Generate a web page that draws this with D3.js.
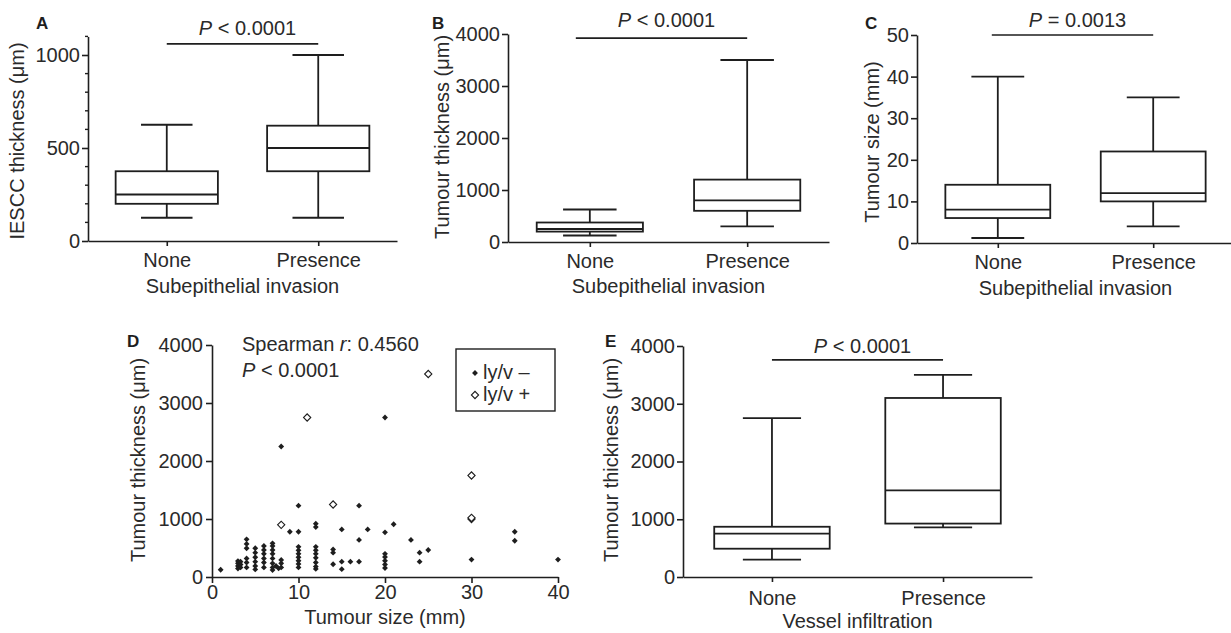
<!DOCTYPE html>
<html>
<head>
<meta charset="utf-8">
<script src="https://cdn.jsdelivr.net/npm/d3@7"></script>
<style>
body { margin: 0; background: #fff; }
svg { display: block; font-family: "Liberation Sans", Arial, sans-serif; }
</style>
</head>
<body>
<svg id="fig" width="1231" height="633"></svg>
<script>
// box stats are [min, q1, median, q3, max] per category
var cats = ["None", "Presence"];
var iesccStats = [[125, 200, 250, 375, 625], [125, 375, 500, 620, 1000]];
var thickStats = [[125, 200, 250, 375, 625], [300, 600, 800, 1200, 3500]];
var sizeStats = [[1.2, 6, 8, 14, 40], [4, 10, 12, 22, 35]];
var vesselStats = [[300, 490, 750, 870, 2750], [860, 925, 1500, 3100, 3500]];

// scatter D, ly/v - (filled) and ly/v + (open)
var negSize = [1, 3, 3, 3, 3, 3.3, 3.3, 3.3, 4, 4, 4, 4, 4, 4, 5, 5, 5, 5, 5, 5,
  6, 6, 6, 6, 6, 6, 7, 7, 7, 7, 7, 7, 7, 7, 7.4, 7.7, 8, 8, 8, 8, 9,
  10, 10, 10, 10, 10, 10, 10, 10, 10, 12, 12, 12, 12, 12, 12, 12, 12, 12,
  14, 14, 14, 15, 15, 15, 16, 17, 17, 17, 18, 20, 20, 20, 20, 20, 20, 20,
  21, 23, 24, 24, 25, 30, 35, 35, 40];
var negThick = [125, 145, 190, 235, 275, 165, 215, 265, 165, 250, 320, 495, 570, 650, 130, 190, 265, 340, 420, 495,
  165, 250, 320, 400, 465, 535, 120, 165, 235, 320, 400, 465, 535, 580, 190, 150, 165, 235, 295, 2250, 780,
  165, 225, 280, 340, 400, 460, 520, 780, 1230, 140, 180, 250, 330, 400, 460, 520, 860, 920,
  220, 420, 475, 135, 265, 820, 265, 265, 640, 1230, 820, 155, 215, 280, 345, 400, 770, 2750,
  910, 640, 265, 420, 465, 300, 625, 780, 300];
var posSize = [8, 11, 14, 25, 30, 30, 30];
var posThick = [900, 2750, 1250, 3500, 1750, 1000, 1020];

var ink = "#1e1e1e", txt = "#2a2a2a";
var svg = d3.select("#fig");

function pText(g, x, y, op, val) {
  var t = g.append("text").attr("x", x).attr("y", y).attr("text-anchor", "middle")
    .attr("font-size", 20).attr("fill", txt);
  t.append("tspan").attr("font-style", "italic").text("P");
  t.append("tspan").text(" " + op + " " + val);
}

function styleAxis(a) {
  a.selectAll("path, line").attr("stroke", ink).attr("stroke-width", 1.6);
  a.selectAll("text").attr("font-size", 20).attr("fill", txt).attr("font-family", null);
}

function boxPanel(c) {
  var g = svg.append("g");
  var x = d3.scalePoint().domain(cats).range([c.left, c.right]).padding(0.52);
  var y = d3.scaleLinear().domain([0, c.ymax]).range([c.bottom, c.top]);
  var step = x.step(), bw = step * 0.675, cw = step * 0.34;

  var ya = g.append("g").attr("transform", "translate(" + c.left + ",0)")
    .call(d3.axisLeft(y).tickValues(c.ticks).tickSize(6).tickSizeOuter(0).tickPadding(2).tickFormat(d3.format("d")));
  styleAxis(ya);
  if (c.minor) {
    g.selectAll(".minor").data(c.minor).enter().append("line")
      .attr("x1", c.left - 3).attr("x2", c.left)
      .attr("y1", function(d) { return y(d); }).attr("y2", function(d) { return y(d); })
      .attr("stroke", ink).attr("stroke-width", 1.4);
  }
  var xa = g.append("g").attr("transform", "translate(0," + c.bottom + ")")
    .call(d3.axisBottom(x).tickSize(5).tickSizeOuter(0).tickPadding(c.catPad));
  styleAxis(xa);

  var b = g.selectAll(".box").data(c.stats).enter().append("g")
    .attr("transform", function(d, i) { return "translate(" + x(cats[i]) + ",0)"; })
    .attr("stroke", ink).attr("stroke-width", 1.8).attr("fill", "none");
  b.append("line").attr("y1", function(d) { return y(d[0]); }).attr("y2", function(d) { return y(d[1]); });
  b.append("line").attr("y1", function(d) { return y(d[3]); }).attr("y2", function(d) { return y(d[4]); });
  b.append("line").attr("x1", -cw / 2).attr("x2", cw / 2)
    .attr("y1", function(d) { return y(d[0]); }).attr("y2", function(d) { return y(d[0]); });
  b.append("line").attr("x1", -cw / 2).attr("x2", cw / 2)
    .attr("y1", function(d) { return y(d[4]); }).attr("y2", function(d) { return y(d[4]); });
  b.append("rect").attr("x", -bw / 2).attr("width", bw)
    .attr("y", function(d) { return y(d[3]); })
    .attr("height", function(d) { return y(d[1]) - y(d[3]); });
  b.append("line").attr("x1", -bw / 2).attr("x2", bw / 2)
    .attr("y1", function(d) { return y(d[2]); }).attr("y2", function(d) { return y(d[2]); });

  // significance bar
  var bx1 = x(cats[0]) + (c.barShift || 0), bx2 = x(cats[1]), by = y(c.barAt);
  g.append("line").attr("x1", bx1).attr("x2", bx2).attr("y1", by).attr("y2", by)
    .attr("stroke", ink).attr("stroke-width", 1.6);
  pText(g, (bx1 + bx2) / 2 + 5, by - c.pGap, c.pOp, c.pVal);

  g.append("text").attr("x", (c.left + c.right) / 2).attr("y", c.titleY).attr("text-anchor", "middle")
    .attr("font-size", 20).attr("fill", txt).text(c.xTitle);
  g.append("text").attr("transform", "translate(" + c.yLabX + "," + c.yLabY + ") rotate(-90)")
    .attr("dy", "0.35em").attr("text-anchor", "middle")
    .attr("font-size", 20).attr("fill", txt).text(c.yTitle);
  g.append("text").attr("x", c.letterX).attr("y", c.letterY)
    .attr("font-size", 17).attr("font-weight", "bold").attr("fill", ink).text(c.letter);
}

boxPanel({ letter: "A", letterX: 36, letterY: 29, left: 88, right: 397, top: 36.4, bottom: 241,
  ymax: 1100, ticks: [0, 500, 1000], minor: d3.range(100, 1101, 100).filter(function(v) { return v % 500; }),
  stats: iesccStats, catPad: 7, barAt: 1060, pGap: 9, pOp: "<", pVal: "0.0001",
  xTitle: "Subepithelial invasion", titleY: 293, yTitle: "IESCC thickness (μm)", yLabX: 17, yLabY: 141 });

boxPanel({ letter: "B", letterX: 432, letterY: 29, left: 508, right: 829, top: 34, bottom: 242,
  ymax: 4000, ticks: [0, 1000, 2000, 3000, 4000],
  stats: thickStats, catPad: 7, barAt: 3920, barShift: -14, pGap: 11, pOp: "<", pVal: "0.0001",
  xTitle: "Subepithelial invasion", titleY: 293, yTitle: "Tumour thickness (μm)", yLabX: 442, yLabY: 137 });

boxPanel({ letter: "C", letterX: 865, letterY: 29, left: 917, right: 1234, top: 35, bottom: 243,
  ymax: 50, ticks: [0, 10, 20, 30, 40, 50],
  stats: sizeStats, catPad: 7, barAt: 50, barShift: -6, pGap: 8, pOp: "=", pVal: "0.0013",
  xTitle: "Subepithelial invasion", titleY: 295, yTitle: "Tumour size (mm)", yLabX: 872, yLabY: 142 });

boxPanel({ letter: "E", letterX: 605, letterY: 347, left: 683, right: 1032, top: 346, bottom: 577,
  ymax: 4000, ticks: [0, 1000, 2000, 3000, 4000],
  stats: vesselStats, catPad: 9, barAt: 3760, pGap: 7, pOp: "<", pVal: "0.0001",
  xTitle: "Vessel infiltration", titleY: 628, yTitle: "Tumour thickness (μm)", yLabX: 611, yLabY: 460 });

// panel D scatter
(function() {
  var g = svg.append("g");
  var x = d3.scaleLinear().domain([0, 40]).range([212, 558]);
  var y = d3.scaleLinear().domain([0, 4000]).range([577, 345]);

  var ya = g.append("g").attr("transform", "translate(212,0)")
    .call(d3.axisLeft(y).tickValues([0, 1000, 2000, 3000, 4000]).tickSize(6).tickSizeOuter(0).tickPadding(3).tickFormat(d3.format("d")));
  styleAxis(ya);
  var xa = g.append("g").attr("transform", "translate(0,577)")
    .call(d3.axisBottom(x).tickValues([0, 10, 20, 30, 40]).tickSize(6).tickSizeOuter(0).tickPadding(2));
  styleAxis(xa);

  var sq = d3.symbol(d3.symbolSquare);
  g.selectAll(".neg").data(negSize).enter().append("path")
    .attr("d", sq.size(17))
    .attr("transform", function(d, i) { return "translate(" + x(d) + "," + y(negThick[i]) + ") rotate(45)"; })
    .attr("fill", ink);
  g.selectAll(".pos").data(posSize).enter().append("path")
    .attr("d", sq.size(26))
    .attr("transform", function(d, i) { return "translate(" + x(d) + "," + y(posThick[i]) + ") rotate(45)"; })
    .attr("fill", "#fff").attr("stroke", ink).attr("stroke-width", 1.1);

  var s = g.append("text").attr("x", 242).attr("y", 351).attr("font-size", 20).attr("fill", txt);
  s.append("tspan").text("Spearman ");
  s.append("tspan").attr("font-style", "italic").text("r");
  s.append("tspan").text(": 0.4560");
  var p = g.append("text").attr("x", 242).attr("y", 377).attr("font-size", 20).attr("fill", txt);
  p.append("tspan").attr("font-style", "italic").text("P");
  p.append("tspan").text(" < 0.0001");

  // legend
  g.append("rect").attr("x", 456).attr("y", 349).attr("width", 99).attr("height", 62)
    .attr("fill", "#fff").attr("stroke", ink).attr("stroke-width", 1.4);
  g.append("path").attr("d", sq.size(17)).attr("transform", "translate(475,373) rotate(45)").attr("fill", ink);
  g.append("path").attr("d", sq.size(26)).attr("transform", "translate(475,395) rotate(45)")
    .attr("fill", "#fff").attr("stroke", ink).attr("stroke-width", 1.1);
  g.append("text").attr("x", 483).attr("y", 379).attr("font-size", 20).attr("fill", txt).text("ly/v –");
  g.append("text").attr("x", 483).attr("y", 401).attr("font-size", 20).attr("fill", txt).text("ly/v +");

  g.append("text").attr("x", 385).attr("y", 624).attr("text-anchor", "middle")
    .attr("font-size", 20).attr("fill", txt).text("Tumour size (mm)");
  g.append("text").attr("transform", "translate(138,460) rotate(-90)")
    .attr("dy", "0.35em").attr("text-anchor", "middle")
    .attr("font-size", 20).attr("fill", txt).text("Tumour thickness (μm)");
  g.append("text").attr("x", 127).attr("y", 347)
    .attr("font-size", 17).attr("font-weight", "bold").attr("fill", ink).text("D");
})();
</script>
</body>
</html>
